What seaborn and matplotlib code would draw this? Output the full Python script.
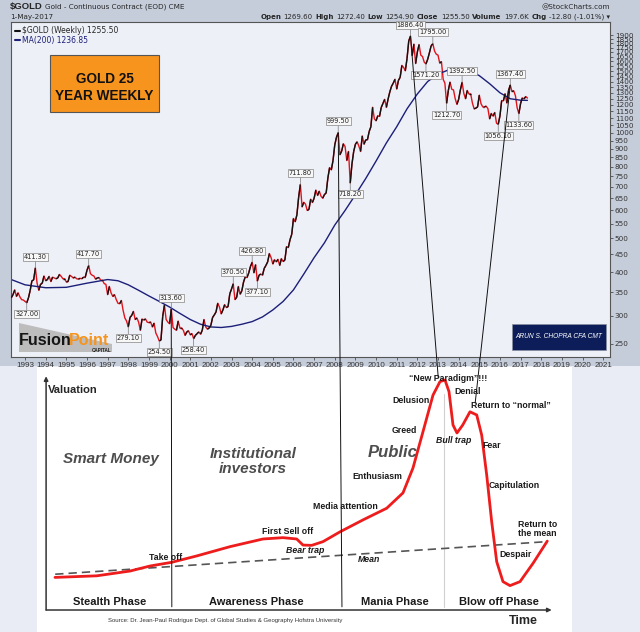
import numpy as np
import pandas as pd
import matplotlib
matplotlib.use('Agg')
import seaborn as sns
from matplotlib import pyplot as plt
from matplotlib.patches import Rectangle, Polygon, ConnectionPatch
from matplotlib.collections import LineCollection
from matplotlib.lines import Line2D
from matplotlib.ticker import NullLocator, NullFormatter

W, H = 640, 632

# gold closes, one per month, May 1992 .. May 2017
gold_close = [
    338, 345, 356, 341, 349, 340, 334, 333,                                  # 1992
    330, 327.0, 338, 355, 378, 380, 411.3, 372, 355, 369, 372, 390,           # 1993
    378, 381, 389, 376, 387, 385, 383, 385, 394, 389, 383, 383,               # 1994
    375, 376, 392, 389, 385, 387, 383, 382, 384, 383, 387, 387,               # 1995
    405, 417.7, 396, 392, 390, 382, 385, 386, 379, 379, 371, 369,             # 1996
    345, 364, 349, 341, 345, 334, 326, 325, 332, 311, 296, 290,               # 1997
    279.1, 297, 301, 309, 293, 296, 288, 273, 294, 292, 294, 288,             # 1998
    287, 288, 279, 286, 268, 262, 254.5, 256, 299, 322, 293, 288,             # 1999
    285, 313.6, 278, 275, 273, 290, 277, 277, 273, 264, 270, 272,             # 2000
    265, 267, 258.4, 264, 267, 270, 266, 273, 293, 279, 275, 277,             # 2001
    282, 297, 302, 308, 326, 318, 304, 312, 323, 317, 319, 347,               # 2002
    358, 370.5, 334, 339, 364, 346, 354, 375, 388, 386, 398, 415,             # 2003
    426.8, 398, 420, 377.1, 392, 395, 392, 410, 418, 428, 452, 440,           # 2004
    422, 434, 428, 435, 418, 437, 429, 433, 473, 470, 495, 513,               # 2005
    569, 557, 583, 654, 711.8, 614, 633, 625, 600, 604, 646, 632,             # 2006
    650, 686, 662, 681, 659, 650, 666, 673, 743, 795, 783, 834,               # 2007
    923, 971, 999.5, 865, 886, 930, 913, 833, 884, 718.2, 815, 884,           # 2008
    927, 942, 916, 884, 979, 927, 954, 955, 1008, 1040, 1182, 1096,           # 2009
    1081, 1118, 1113, 1180, 1212, 1245, 1181, 1248, 1308, 1357, 1385, 1421,   # 2010
    1332, 1410, 1439, 1556, 1536, 1502, 1628, 1828, 1886.4, 1660, 1790, 1575, # 2011
    1700, 1785, 1665, 1650, 1590, 1571.2, 1620, 1690, 1770, 1795.0, 1710, 1675, # 2012
    1665, 1580, 1595, 1420, 1385, 1212.7, 1320, 1395, 1330, 1325, 1250, 1205, # 2013
    1245, 1325, 1392.5, 1295, 1250, 1320, 1290, 1290, 1215, 1170, 1175, 1185, # 2014
    1280, 1210, 1185, 1185, 1190, 1172, 1095, 1135, 1115, 1142, 1065, 1056.1, # 2015
    1117, 1235, 1233, 1292, 1215, 1320, 1367.4, 1310, 1317, 1275, 1178, 1133.6, # 2016
    1212, 1257, 1249, 1268, 1255.5,                                           # 2017
]
gold_dates = pd.date_range('1992-05-01', periods=len(gold_close), freq='MS')
gold_year = np.array(gold_dates.year + (gold_dates.month - 1) / 12.0)

# 200 week moving average
ma_year = [1992.33, 1993.0, 1994.0, 1995.0, 1996.0, 1997.0, 1997.5, 1998.0, 1998.5, 1999.0,
           1999.5, 2000.0, 2000.5, 2001.0, 2001.5, 2002.0, 2002.5, 2003.0, 2003.5, 2004.0,
           2004.5, 2005.0, 2005.5, 2006.0, 2006.5, 2007.0, 2007.5, 2008.0, 2008.5, 2009.0,
           2009.5, 2010.0, 2010.5, 2011.0, 2011.5, 2012.0, 2012.5, 2013.0, 2013.5, 2014.0,
           2014.5, 2015.0, 2015.5, 2016.0, 2016.5, 2017.0, 2017.33]
ma_value = [381, 368, 361, 362, 372, 381, 378, 368, 355, 342,
            330, 318, 305, 293, 284, 279, 278, 280, 284, 289,
            298, 312, 330, 356, 395, 440, 485, 545, 600, 665,
            740, 830, 935, 1040, 1170, 1290, 1400, 1470, 1510, 1525,
            1505, 1455, 1380, 1300, 1250, 1238, 1236.85]

peak_values = [327.00, 411.30, 417.70, 279.10, 254.50, 313.60, 258.40, 370.50, 426.80, 377.10,
               711.80, 999.50, 718.20, 1886.40, 1795.00, 1571.20, 1392.50, 1212.70, 1056.10,
               1367.40, 1133.60]
peak_sides = ['below', 'above', 'above', 'below', 'below', 'above', 'below', 'above', 'above', 'below',
              'above', 'above', 'below', 'above', 'above', 'below', 'above', 'below', 'below',
              'above', 'below']

year_ticks = list(range(1993, 2022))
price_ticks = list(range(250, 1901, 50))

# bubble diagram (time 0-100, valuation 0-100)
bubble_time = [3.36, 11.16, 17.38, 21.12, 25.18, 29.85, 36.07, 42.24, 45.98, 48.54,
               49.72, 51.35, 53.46, 56.64, 60.93, 65.36, 68.41, 70.28, 72.15, 74.02,
               75.33, 76.26, 77.01, 77.76, 78.50, 79.57, 80.93, 82.19, 83.12, 84.06,
               84.99, 85.93, 87.10, 88.41, 90.28, 92.71, 95.38]
bubble_value = [20.6, 21.2, 23.0, 24.9, 26.3, 28.7, 32.2, 35.1, 35.6, 35.1,
                32.8, 32.7, 34.1, 37.8, 42.3, 46.7, 52.5, 61.9, 75.6, 89.4,
                94.5, 95.1, 90.7, 78.1, 75.1, 78.1, 83.1, 81.9, 74.3, 59.2,
                41.6, 26.5, 19.0, 17.5, 19.0, 25.9, 34.3]
mean_time = [3.4, 95.3]
mean_value = [21.8, 34.1]
phase_names = ['Stealth Phase', 'Awareness Phase', 'Mania Phase', 'Blow off Phase']
phase_time = [13.6, 41.0, 66.9, 86.4]

RED = '#e3121b'
NAVY = '#1b1f78'
LIB = ['Liberation Sans', 'DejaVu Sans']

sns.set_style('ticks')
plt.rcParams['font.family'] = ['DejaVu Sans']

fig = plt.figure(figsize=(6.4, 6.32), dpi=100)
fig.patch.set_facecolor('#e9ecf4')
fig.add_artist(Rectangle((0, 1 - 366 / H), 1, 366 / H, transform=fig.transFigure,
                         facecolor='#c6cdda', edgecolor='none', zorder=-2))

# ---------------- top: gold weekly chart ----------------
ax = fig.add_axes([11 / W, 1 - 357 / H, 599 / W, 335 / H])
ax.set_facecolor('#eef0f8')
ax.set_yscale('log')

sns.lineplot(x=gold_year, y=gold_close, ax=ax, color=RED, linewidth=1.0)
pts = np.column_stack([gold_year, gold_close])
up = [i for i in range(len(gold_close) - 1) if gold_close[i + 1] >= gold_close[i]]
segs = [pts[i:i + 2] for i in up]
ax.add_collection(LineCollection(segs, colors='#111111', linewidths=1.0, zorder=3))
sns.lineplot(x=ma_year, y=ma_value, ax=ax, color=NAVY, linewidth=1.0)

ax.set_xlim(1992.32, 2021.33)
ax.set_ylim(229, 2070)
ax.yaxis.tick_right()
ax.set_yticks(price_ticks)
ax.set_yticklabels([str(p) for p in price_ticks], fontsize=5.2)
ax.yaxis.set_minor_locator(NullLocator())
ax.yaxis.set_minor_formatter(NullFormatter())
ax.set_xticks(year_ticks)
ax.set_xticklabels([str(y) for y in year_ticks], fontsize=5.8, family=LIB)
ax.tick_params(axis='both', length=2, width=0.5, pad=1.5, colors='#333333')
ax.set_xlabel('')
ax.set_ylabel('')
for s in ax.spines.values():
    s.set_color('#555555')
    s.set_linewidth(0.8)

for val, side in zip(peak_values, peak_sides):
    i = int(np.argmin(np.abs(np.array(gold_close) - val)))
    dy = 6 if side == 'above' else -6
    ax.annotate('{:.2f}'.format(val), xy=(gold_year[i], gold_close[i]), xytext=(0, dy),
                textcoords='offset points', ha='center',
                va='bottom' if side == 'above' else 'top', fontsize=4.8, color='#222222',
                bbox=dict(boxstyle='square,pad=0.15', fc='#f7f7f7', ec='#858585', lw=0.5),
                arrowprops=dict(arrowstyle='-', color='#777777', lw=0.5, shrinkA=0, shrinkB=0),
                zorder=5)

handles = [Line2D([], [], color='#111111', lw=1.5), Line2D([], [], color=NAVY, lw=1.5)]
leg = ax.legend(handles, [r'\$GOLD (Weekly) 1255.50', 'MA(200) 1236.85'], loc='upper left',
                frameon=False, fontsize=5.5, handlelength=0.6, handletextpad=0.3,
                borderaxespad=0.15, labelspacing=0.1)
leg.get_texts()[1].set_color(NAVY)

# header
fig.text(10 / W, 1 - 7 / H, r'\$GOLD', fontsize=6.8, fontweight='bold', va='center', family=LIB)
fig.text(45 / W, 1 - 7 / H, 'Gold - Continuous Contract (EOD) CME', fontsize=5.2, va='center')
fig.text(610 / W, 1 - 7 / H, '@StockCharts.com', fontsize=5.2, va='center', ha='right')
fig.text(10 / W, 1 - 17 / H, '1-May-2017', fontsize=5.2, va='center')
pieces = [('Open', 'bold'), ('1269.60', 'normal'), ('High', 'bold'), ('1272.40', 'normal'),
          ('Low', 'bold'), ('1254.90', 'normal'), ('Close', 'bold'), ('1255.50', 'normal'),
          ('Volume', 'bold'), ('197.6K', 'normal'), ('Chg', 'bold'),
          ('-12.80 (-1.01%) \u25be', 'normal')]
rend = fig.canvas.get_renderer()
xpos = 610
for s, w in reversed(pieces):
    t = fig.text(xpos / W, 1 - 17 / H, s, fontsize=5.0, fontweight=w, va='center', ha='right')
    xpos -= t.get_window_extent(rend).width + 2.5

# orange title box
fig.add_artist(Rectangle((50 / W, 1 - 112 / H), 109 / W, 57 / H, transform=fig.transFigure,
                         facecolor='#f7941d', edgecolor='#555555', lw=0.8))
fig.text(104.5 / W, 1 - 87.5 / H, 'GOLD 25\nYEAR WEEKLY', ha='center', va='center',
         fontsize=9.8, fontweight='bold', linespacing=1.35, family=LIB, color='#111111')

# logo
fig.add_artist(Polygon([(19 / W, 1 - 323 / H), (19 / W, 1 - 352 / H), (112 / W, 1 - 352 / H),
                        (112 / W, 1 - 344 / H)], closed=True, transform=fig.transFigure,
                       facecolor='#bdbdbd', edgecolor='none'))
fig.text(19 / W, 1 - 345 / H, 'Fusion', fontsize=11.5, fontweight='bold', color='#151515',
         family=LIB, va='baseline')
fig.text(69 / W, 1 - 345 / H, 'Point', fontsize=11.5, fontweight='bold', color='#f7941d',
         family=LIB, va='baseline')
fig.text(111 / W, 1 - 351.5 / H, 'CAPITAL', fontsize=3.3, fontweight='bold', color='#222222',
         ha='right', va='baseline', family=LIB)

# author box
fig.add_artist(Rectangle((512 / W, 1 - 350 / H), 94 / W, 26 / H, transform=fig.transFigure,
                         facecolor='#0c1d5a', edgecolor='#8890a0', lw=0.5))
fig.text(559 / W, 1 - 337 / H, 'ARUN S. CHOPRA CFA CMT', ha='center', va='center',
         fontsize=4.8, style='italic', color='white', family=LIB)

# ---------------- bottom: bubble stages ----------------
ax2 = fig.add_axes([37 / W, 0, 535 / W, 265 / H])
ax2.set_facecolor('white')
ax2.set_xlim(0, 100)
ax2.set_ylim(0, 100)
ax2.set_xticks([])
ax2.set_yticks([])
for s in ax2.spines.values():
    s.set_visible(False)

arrow = dict(arrowstyle='-|>', color='#333333', lw=1.1, mutation_scale=6, shrinkA=0, shrinkB=0)
ax2.annotate('', xy=(1.7, 96.5), xytext=(1.7, 8.3), arrowprops=arrow)
ax2.annotate('', xy=(96.2, 8.3), xytext=(1.7, 8.3), arrowprops=arrow)
ax2.plot([76.1, 76.1], [9.5, 90], color='#d0d0d0', lw=0.8)

sns.lineplot(x=mean_time, y=mean_value, ax=ax2, color='#555555', linewidth=1.2,
             linestyle=(0, (5, 3)))
sns.lineplot(x=bubble_time, y=bubble_value, ax=ax2, sort=False, color='#ee1c1c', linewidth=2.0)

ax2.text(2.1, 91.3, 'Valuation', fontsize=8, fontweight='bold', family=LIB, va='center')
ax2.text(90.9, 4.2, 'Time', fontsize=9, fontweight='bold', family=LIB, va='center', ha='center')
ax2.text(35.1, 4.5, 'Source: Dr. Jean-Paul Rodrigue Dept. of Global Studies & Geography Hofstra University',
         fontsize=4.3, family=LIB, va='center', ha='center', color='#333333')
for name, t in zip(phase_names, phase_time):
    ax2.text(t, 11.3, name, fontsize=8, fontweight='bold', family=LIB, ha='center', va='center',
             color='#1a1a1a')

grey = '#4d4d4d'
ax2.text(13.8, 65.3, 'Smart Money', fontsize=11, fontweight='bold', style='italic', family=LIB,
         ha='center', va='center', color=grey)
ax2.text(40.4, 64.5, 'Institutional\ninvestors', fontsize=11, fontweight='bold', style='italic',
         family=LIB, ha='center', va='center', color=grey, linespacing=1.1)
ax2.text(66.4, 67.9, 'Public', fontsize=12, fontweight='bold', style='italic', family=LIB,
         ha='center', va='center', color=grey)

lab = dict(fontsize=6.3, fontweight='bold', family=LIB, ha='center', va='center', color='#1a1a1a')
ax2.text(24.1, 28.3, 'Take off', **lab)
ax2.text(46.9, 38.1, 'First Sell off', **lab)
ax2.text(50.1, 30.9, 'Bear trap', style='italic', **lab)
ax2.text(57.6, 47.5, 'Media attention', **lab)
ax2.text(63.7, 58.5, 'Enthusiasm', **lab)
ax2.text(68.6, 76.2, 'Greed', **lab)
ax2.text(69.9, 87.2, 'Delusion', **lab)
ax2.text(76.8, 95.8, '\u201cNew Paradigm\u201d!!!', **lab)
ax2.text(80.4, 90.6, 'Denial', **lab)
ax2.text(88.6, 85.3, 'Return to \u201cnormal\u201d', **lab)
ax2.text(77.9, 72.1, 'Bull trap', style='italic', **lab)
ax2.text(85.0, 70.2, 'Fear', **lab)
ax2.text(89.2, 55.1, 'Capitulation', **lab)
ax2.text(93.5, 38.9, 'Return to\nthe mean', linespacing=1.1, **lab)
ax2.text(89.5, 29.4, 'Despair', **lab)
ax2.text(62.1, 27.5, 'Mean', style='italic', **lab)

# links between the gold chart and the bubble stages
links = [((2000.08, 313.6), (25.2, 9.5)),
         ((2008.17, 999.5), (57.0, 9.5)),
         ((2011.67, 1886.4), (75.0, 96.0)),
         ((2016.5, 1367.4), (81.9, 86.4))]
for a, b in links:
    fig.add_artist(ConnectionPatch(xyA=a, coordsA='data', axesA=ax, xyB=b, coordsB='data',
                                   axesB=ax2, color='#111111', lw=0.7, zorder=6))

plt.savefig('out.png', dpi=100)
